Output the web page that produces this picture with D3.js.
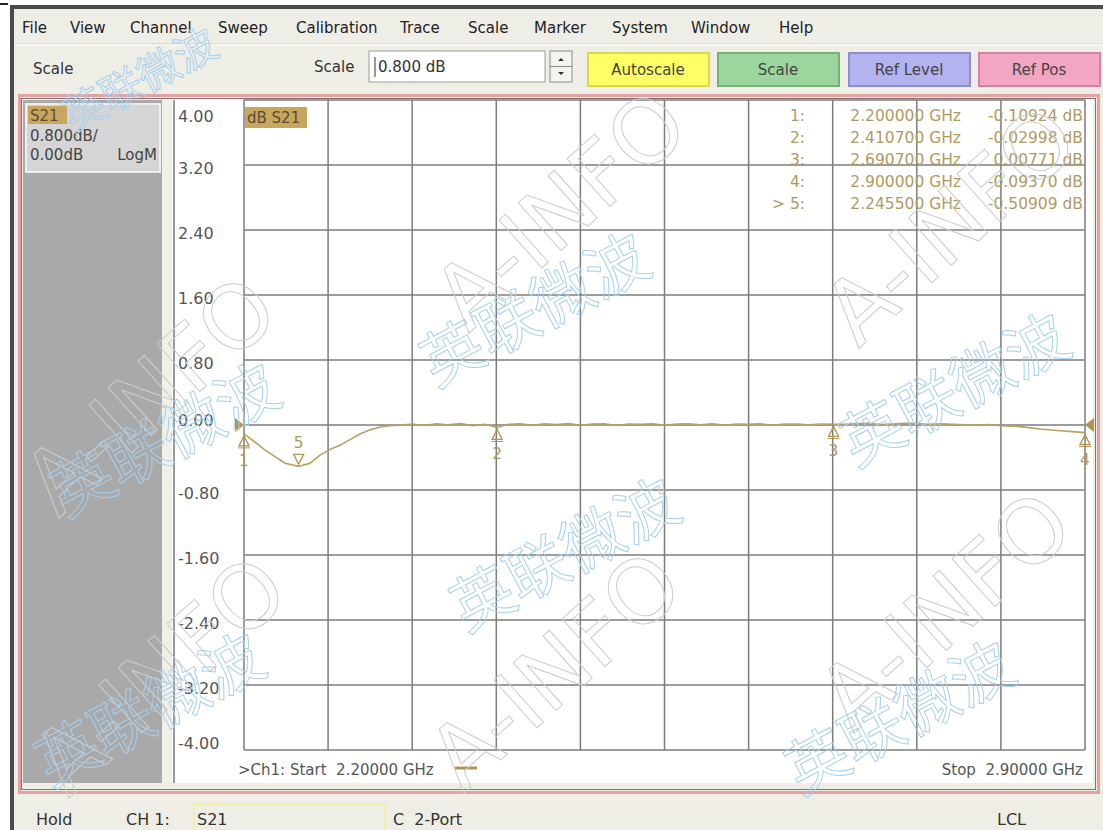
<!DOCTYPE html>
<html>
  <head>
    <script src="https://d3js.org/d3.v7.min.js"></script>
    <style>
    body { margin: 0; background: #fff; overflow: hidden; }
    svg text { font-family: "DejaVu Sans", sans-serif; white-space: pre; }
    .menu text { font-size: 15px; fill: #222; }
    .ylab text { font-size: 16px; fill: #555; font-family: "DejaVu Sans", sans-serif; }
    .mk text { font-size: 15.5px; fill: #b09a62; }
    .wm text { fill: none; pointer-events: none; }
    </style>
  </head>
  <body>
    <script>

    // ---- data ----
    var menuItems = ["File", "View", "Channel", "Sweep", "Calibration", "Trace", "Scale", "Marker", "System", "Window", "Help"];
    var menuX = [22, 70, 130, 218, 296, 400, 468, 534, 612, 691, 779];

    var yTicks = [4.00, 3.20, 2.40, 1.60, 0.80, 0.00, -0.80, -1.60, -2.40, -3.20, -4.00];
    var xGrid = [2.20, 2.27, 2.34, 2.41, 2.48, 2.55, 2.62, 2.69, 2.76, 2.83, 2.90];

    // S21 trace (GHz / dB)
    var traceFreq = [2.2000, 2.2092, 2.2175, 2.2258, 2.2341, 2.2455, 2.2549, 2.2633, 2.2716, 2.2799,
                     2.2882, 2.2965, 2.3049, 2.3132, 2.3215, 2.33, 2.34, 2.35, 2.36, 2.37,
                     2.38, 2.39, 2.40, 2.4107, 2.42, 2.43, 2.44, 2.45, 2.46, 2.47,
                     2.48, 2.49, 2.50, 2.51, 2.52, 2.53, 2.54, 2.55, 2.56, 2.57,
                     2.58, 2.59, 2.60, 2.61, 2.62, 2.63, 2.64, 2.65, 2.66, 2.67,
                     2.68, 2.6907, 2.70, 2.71, 2.72, 2.73, 2.74, 2.75, 2.76, 2.77,
                     2.78, 2.79, 2.80, 2.81, 2.82, 2.83, 2.846, 2.8626, 2.8792, 2.8917, 2.90];
    var traceDb = [-0.109, -0.21, -0.31, -0.39, -0.47, -0.509, -0.47, -0.37, -0.30, -0.25,
                   -0.18, -0.11, -0.06, -0.025, -0.01, -0.004, 0.012, -0.006, 0.015, 0.004,
                   0.018, -0.008, 0.010, -0.030, 0.008, 0.016, -0.005, 0.014, 0.006, 0.017,
                   -0.004, 0.012, 0.015, -0.006, 0.013, 0.010, 0.016, -0.003, 0.011, 0.014,
                   0.004, 0.015, -0.005, 0.012, 0.009, 0.015, -0.004, 0.011, 0.013, 0.003,
                   0.012, 0.0077, 0.010, 0.018, 0.020, 0.006, 0.012, 0.021, 0.019, 0.008,
                   0.016, 0.010, 0.004, -0.004, 0.006, -0.008, -0.02, -0.05, -0.07, -0.085, -0.0937];

    var markerIds = ["1", "2", "3", "4", "5"];
    var markerFreq = [2.200000, 2.410700, 2.690700, 2.900000, 2.245500];
    var markerDb = [-0.10924, -0.02998, 0.00771, -0.09370, -0.50909];
    var activeMarker = "5";

    var statusItems = ["Hold", "CH 1:", "S21", "C  2-Port", "LCL"];
    var statusX = [36, 126, 197, 393, 997];

    // plain hyphen for negative numbers, like the instrument shows
    var loc = d3.formatLocale({ decimal: ".", thousands: ",", grouping: [3], currency: ["", ""], minus: "-" });

    // ---- svg ----
    var W = 1103, H = 830;
    var svg = d3.select("body").append("svg")
      .attr("width", W)
      .attr("height", H);

    // window chrome
    svg.append("rect").attr("width", W).attr("height", H).attr("fill", "#fff");
    svg.append("rect").attr("x", 10).attr("y", 5).attr("width", W - 10).attr("height", H - 5).attr("fill", "#efeee6");
    svg.append("rect").attr("x", 10).attr("y", 5).attr("width", W - 10).attr("height", 4).attr("fill", "#4a4a4a");
    svg.append("rect").attr("x", 10).attr("y", 5).attr("width", 4).attr("height", H - 5).attr("fill", "#4a4a4a");
    svg.append("rect").attr("x", 0).attr("y", 3).attr("width", 8).attr("height", 2).attr("fill", "#222");

    // menu bar
    var menu = svg.append("g").attr("class", "menu");
    menu.selectAll("text")
      .data(menuItems)
      .enter()
      .append("text")
      .attr("x", function(d, i) { return menuX[i]; })
      .attr("y", 33)
      .text(function(d) { return d; });

    svg.append("line").attr("x1", 14).attr("x2", W).attr("y1", 44).attr("y2", 44).attr("stroke", "#cfcdc2");
    svg.append("line").attr("x1", 14).attr("x2", W).attr("y1", 45).attr("y2", 45).attr("stroke", "#fff");

    // toolbar
    svg.append("text").attr("x", 33).attr("y", 74).attr("font-size", 15).attr("fill", "#333").text("Scale");
    svg.append("text").attr("x", 314).attr("y", 72).attr("font-size", 15).attr("fill", "#333").text("Scale");
    svg.append("rect").attr("x", 369).attr("y", 51).attr("width", 176).attr("height", 31)
      .attr("fill", "#fff").attr("stroke", "#9a9a9a");
    svg.append("line").attr("x1", 375).attr("x2", 375).attr("y1", 57).attr("y2", 77).attr("stroke", "#333");
    svg.append("text").attr("x", 378).attr("y", 72).attr("font-size", 15).attr("fill", "#333").text("0.800 dB");
    svg.append("rect").attr("x", 550).attr("y", 51).attr("width", 22).attr("height", 31)
      .attr("fill", "#f4f3ee").attr("stroke", "#8a8a8a");
    svg.append("line").attr("x1", 550).attr("x2", 572).attr("y1", 66.5).attr("y2", 66.5).attr("stroke", "#8a8a8a");
    svg.append("path").attr("d", "M558,61 L561,58 L564,61 Z").attr("fill", "#333");
    svg.append("path").attr("d", "M558,72 L561,75 L564,72 Z").attr("fill", "#333");

    var buttons = [
      { label: "Autoscale", x: 588, fill: "#ffff66", edge: "#d8d84a" },
      { label: "Scale", x: 718, fill: "#9cd69e", edge: "#74b276" },
      { label: "Ref Level", x: 849, fill: "#b3b3f0", edge: "#8d8dd0" },
      { label: "Ref Pos", x: 979, fill: "#f2a6c4", edge: "#d282a2" }
    ];
    var btn = svg.append("g").selectAll("g")
      .data(buttons)
      .enter()
      .append("g");
    btn.append("rect")
      .attr("x", function(d) { return d.x; })
      .attr("y", 53).attr("width", 121).attr("height", 33)
      .attr("fill", function(d) { return d.fill; })
      .attr("stroke", function(d) { return d.edge; })
      .attr("stroke-width", 2);
    btn.append("text")
      .attr("x", function(d) { return d.x + 60; })
      .attr("y", 75)
      .attr("text-anchor", "middle")
      .attr("font-size", 15)
      .attr("fill", "#444")
      .text(function(d) { return d.label; });

    // channel window frame
    svg.append("rect").attr("x", 19.5).attr("y", 95.5).attr("width", 1079).attr("height", 697)
      .attr("fill", "#efeee6").attr("stroke", "#e2a2a2").attr("stroke-width", 3);
    svg.append("rect").attr("x", 21.5).attr("y", 98.5).attr("width", 1074).attr("height", 691)
      .attr("fill", "none").attr("stroke", "#8a7070").attr("stroke-width", 1);

    // left info panel
    svg.append("rect").attr("x", 23).attr("y", 100).attr("width", 139).attr("height", 683).attr("fill", "#a9a9a9");
    svg.append("rect").attr("x", 26).attr("y", 104).attr("width", 134).attr("height", 68)
      .attr("fill", "#d5d5d5").attr("stroke", "#ededed").attr("stroke-width", 2);
    svg.append("rect").attr("x", 28).attr("y", 106).attr("width", 39).attr("height", 18).attr("fill", "#c9a65e");
    svg.append("text").attr("x", 30).attr("y", 121).attr("font-size", 15).attr("fill", "#5a4c34").text("S21");
    svg.append("text").attr("x", 30).attr("y", 141).attr("font-size", 15).attr("fill", "#444").text("0.800dB/");
    svg.append("text").attr("x", 30).attr("y", 160).attr("font-size", 15).attr("fill", "#444").text("0.00dB");
    svg.append("text").attr("x", 157).attr("y", 160).attr("font-size", 15).attr("fill", "#444")
      .attr("text-anchor", "end").text("LogM");

    // separator and plot background
    svg.append("rect").attr("x", 162).attr("y", 100).attr("width", 10).attr("height", 683).attr("fill", "#f1f0e8");
    svg.append("rect").attr("x", 172).attr("y", 100).attr("width", 921).attr("height", 683).attr("fill", "#fff");
    svg.append("line").attr("x1", 174).attr("x2", 174).attr("y1", 100).attr("y2", 783)
      .attr("stroke", "#777").attr("stroke-width", 1.5);

    // scales
    var xScale = d3.scaleLinear().domain([2.2, 2.9]).range([244, 1085]);
    var yScale = d3.scaleLinear().domain([-4, 4]).range([750, 100]);

    // grid
    var grid = svg.append("g").attr("stroke", "#7c7c7c").attr("stroke-width", 1.5);
    grid.selectAll(".v")
      .data(xGrid)
      .enter()
      .append("line")
      .attr("x1", function(d) { return xScale(d); })
      .attr("x2", function(d) { return xScale(d); })
      .attr("y1", yScale(4)).attr("y2", yScale(-4));
    grid.selectAll(".h")
      .data(yTicks)
      .enter()
      .append("line")
      .attr("x1", xScale(2.2)).attr("x2", xScale(2.9))
      .attr("y1", function(d) { return yScale(d); })
      .attr("y2", function(d) { return yScale(d); });

    // y labels (inside, to the right of the left rule)
    var yAxis = d3.axisRight(yScale)
      .tickValues(yTicks)
      .tickSize(0)
      .tickPadding(4)
      .tickFormat(loc.format(".2f"));
    var ya = svg.append("g")
      .attr("class", "ylab")
      .attr("transform", "translate(174,0)")
      .call(yAxis);
    ya.select(".domain").remove();
    ya.selectAll("text")
      .attr("font-size", null)
      .attr("dy", function(d) {
        if (d === 4) return 21;
        if (d === -4) return -2;
        if (d === 0) return 0;
        return 8;
      });

    // trace title
    svg.append("rect").attr("x", 245).attr("y", 107).attr("width", 62).attr("height", 21).attr("fill", "#c9a65e");
    svg.append("text").attr("x", 247).attr("y", 123).attr("font-size", 15).attr("fill", "#5a4c34").text("dB S21");

    // marker readout table
    var mk = svg.append("g").attr("class", "mk");
    var rowY = function(i) { return 121 + i * 22; };
    mk.selectAll(".id")
      .data(markerIds)
      .enter()
      .append("text")
      .attr("x", 805)
      .attr("y", function(d, i) { return rowY(i); })
      .attr("text-anchor", "end")
      .text(function(d) { return (d === activeMarker ? "> " : "") + d + ":"; });
    mk.selectAll(".fq")
      .data(markerFreq)
      .enter()
      .append("text")
      .attr("x", 961)
      .attr("y", function(d, i) { return rowY(i); })
      .attr("text-anchor", "end")
      .text(function(d) { return loc.format(".6f")(d) + " GHz"; });
    mk.selectAll(".db")
      .data(markerDb)
      .enter()
      .append("text")
      .attr("x", 1083)
      .attr("y", function(d, i) { return rowY(i); })
      .attr("text-anchor", "end")
      .text(function(d) { return loc.format(".5f")(d) + " dB"; });

    // reference position pointers
    var tan = "#b39552";
    svg.append("path")
      .attr("d", "M" + (xScale(2.2) - 9) + "," + (yScale(0) - 7) + " L" + xScale(2.2) + "," + yScale(0) +
                 " L" + (xScale(2.2) - 9) + "," + (yScale(0) + 7) + " Z")
      .attr("fill", tan);
    svg.append("path")
      .attr("d", "M" + (xScale(2.9) + 9) + "," + (yScale(0) - 7) + " L" + xScale(2.9) + "," + yScale(0) +
                 " L" + (xScale(2.9) + 9) + "," + (yScale(0) + 7) + " Z")
      .attr("fill", tan);

    // trace
    var line = d3.line()
      .x(function(d, i) { return xScale(traceFreq[i]); })
      .y(function(d) { return yScale(d); });
    svg.append("path")
      .datum(traceDb)
      .attr("d", line)
      .attr("fill", "none")
      .attr("stroke", "#b9a064")
      .attr("stroke-width", 1.6);

    // markers on the trace
    var mg = svg.append("g").attr("class", "mk");
    markerIds.forEach(function(id, i) {
      var x = xScale(markerFreq[i]), y = yScale(markerDb[i]);
      if (id === activeMarker) {
        mg.append("path")
          .attr("d", "M" + (x - 5) + "," + (y - 12) + " L" + (x + 5) + "," + (y - 12) + " L" + x + "," + (y - 2) + " Z")
          .attr("fill", "none").attr("stroke", tan).attr("stroke-width", 1.3);
        mg.append("text").attr("x", x).attr("y", y - 18).attr("text-anchor", "middle").text(id);
      } else {
        mg.append("path")
          .attr("d", "M" + x + "," + (y + 2) + " L" + (x + 5) + "," + (y + 12) + " L" + (x - 5) + "," + (y + 12) + " Z")
          .attr("fill", "none").attr("stroke", tan).attr("stroke-width", 1.3);
        mg.append("line").attr("x1", x - 6).attr("x2", x + 6).attr("y1", y + 14).attr("y2", y + 14)
          .attr("stroke", tan).attr("stroke-width", 1);
        mg.append("text").attr("x", x).attr("y", y + 32).attr("text-anchor", "middle").text(id);
      }
    });

    // start / stop annotation
    svg.append("text").attr("x", 238).attr("y", 775).attr("font-size", 15).attr("fill", "#555")
      .text(">Ch1: Start  2.20000 GHz");
    svg.append("line").attr("x1", 455).attr("x2", 477).attr("y1", 768).attr("y2", 768)
      .attr("stroke", tan).attr("stroke-width", 3);
    svg.append("text").attr("x", 1083).attr("y", 775).attr("font-size", 15).attr("fill", "#555")
      .attr("text-anchor", "end").text("Stop  2.90000 GHz");

    // status bar
    svg.append("rect").attr("x", 14).attr("y", 797).attr("width", W - 14).attr("height", H - 797).attr("fill", "#efeee6");
    svg.append("rect").attr("x", 194).attr("y", 804).attr("width", 191).attr("height", 30)
      .attr("fill", "none").attr("stroke", "#f2f0a8").attr("stroke-width", 2);
    svg.append("g").selectAll("text")
      .data(statusItems)
      .enter()
      .append("text")
      .attr("x", function(d, i) { return statusX[i]; })
      .attr("y", 825)
      .attr("font-size", 16)
      .attr("fill", "#333")
      .text(function(d) { return d; });

    // watermark overlay
    var wmA = [[150, 395], [560, 210], [950, 225], [555, 670], [945, 610], [160, 675]];
    var wmC = [[165, 440], [535, 310], [955, 390], [565, 555], [900, 718], [150, 710], [140, 80]];
    var wm = svg.append("g").attr("class", "wm");
    wm.selectAll(".a")
      .data(wmA)
      .enter()
      .append("text")
      .attr("transform", function(d) { return "translate(" + d[0] + "," + d[1] + ") rotate(-42)"; })
      .attr("text-anchor", "middle")
      .attr("dy", "0.35em")
      .attr("font-size", 88)
      .attr("stroke", "#cdcdcd")
      .attr("stroke-width", 1)
      .text("A-INFO");
    wm.selectAll(".c")
      .data(wmC)
      .enter()
      .append("text")
      .attr("transform", function(d) { return "translate(" + d[0] + "," + d[1] + ") rotate(-28)"; })
      .attr("text-anchor", "middle")
      .attr("dy", "0.35em")
      .attr("font-size", function(d, i) { return i === 6 ? 42 : 62; })
      .style("font-family", "'Noto Sans CJK SC', sans-serif")
      .attr("stroke", "#a6d0f0")
      .attr("stroke-width", 1)
      .text("英联微波");

    </script>
  </body>
</html>
